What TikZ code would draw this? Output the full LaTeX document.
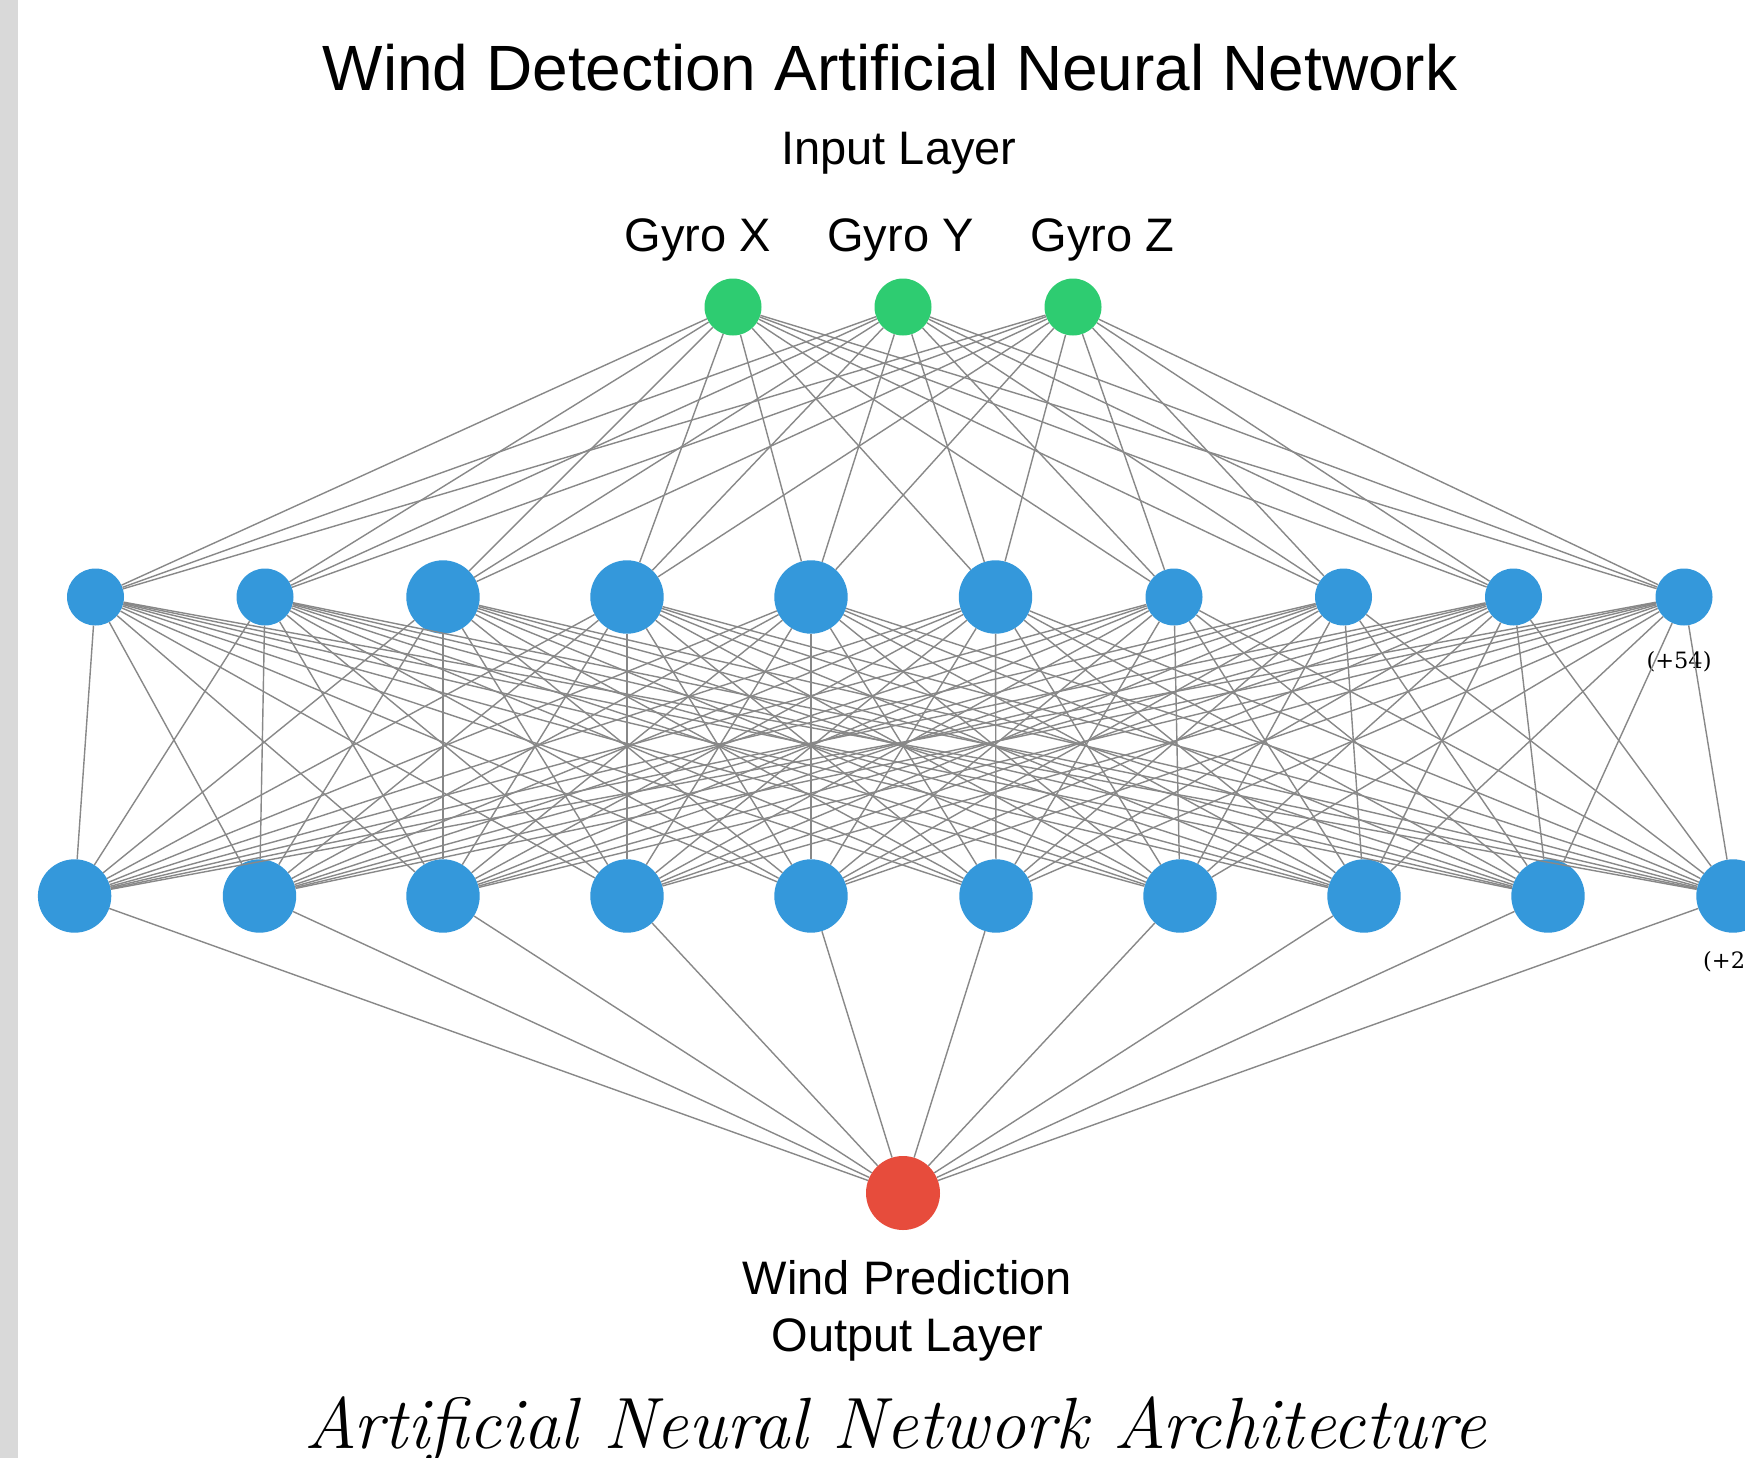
\documentclass[tikz,border=0pt]{standalone}
\usepackage{fontspec}
\newfontfamily\sansf{Liberation Sans}
\newfontfamily\serifsmall{DejaVu Serif}
\definecolor{nnblue}{HTML}{3498DB}
\definecolor{nngreen}{HTML}{2ECC71}
\definecolor{nnred}{HTML}{E74C3C}
\definecolor{edgegray}{RGB}{136,136,136}
\definecolor{barcolor}{RGB}{217,217,217}
\begin{document}
\begin{tikzpicture}[x=1pt,y=-1pt,
  edge/.style={draw=edgegray, line width=1.4pt},
  inneuron/.style={circle, fill=nngreen, minimum size=57pt, inner sep=0pt},
  smallneuron/.style={circle, fill=nnblue, minimum size=57pt, inner sep=0pt},
  bigneuron/.style={circle, fill=nnblue, minimum size=73.4pt, inner sep=0pt},
  outneuron/.style={circle, fill=nnred, minimum size=74pt, inner sep=0pt},
  ttl/.style={inner sep=0pt, anchor=base, font=\sansf\fontsize{64pt}{70pt}\selectfont},
  lab/.style={inner sep=0pt, anchor=base, font=\sansf\fontsize{47pt}{54pt}\selectfont},
  cnt/.style={inner sep=0pt, font=\serifsmall\fontsize{22.5pt}{26pt}\selectfont},
  capt/.style={inner sep=0pt, anchor=base, font=\itshape\fontsize{72.6pt}{80pt}\selectfont}
]
\useasboundingbox (0,0) rectangle (1745,1458);
\clip (0,0) rectangle (1745,1458);
\fill[white] (0,0) rectangle (1745,1458);
\fill[barcolor] (0,0) rectangle (18,1458);

% texts
\node[ttl] (title) at (890,91) {Wind Detection Artificial Neural Network};
\node[lab] (inlab) at (899,165) {Input Layer};
\node[lab] (gx) at (697.6,251.7) {Gyro X};
\node[lab] (gy) at (900.4,251.7) {Gyro Y};
\node[lab] (gz) at (1102.3,251.7) {Gyro Z};
\node[lab] (wp) at (907.5,1294) {Wind Prediction};
\node[lab] (ol) at (907.5,1351.7) {Output Layer};
\node[capt] (cap) at (895,1448) {Artificial Neural Network Architecture};

% input layer
\node[inneuron] (i1) at (733,307) {};
\node[inneuron] (i2) at (903,307) {};
\node[inneuron] (i3) at (1073,307) {};

% hidden layer 1
\node[smallneuron] (a1) at (95.5,597) {};
\node[smallneuron] (a2) at (265,597) {};
\node[bigneuron] (a3) at (443,597) {};
\node[bigneuron] (a4) at (627,597) {};
\node[bigneuron] (a5) at (811,597) {};
\node[bigneuron] (a6) at (995.5,597) {};
\node[smallneuron] (a7) at (1174,597) {};
\node[smallneuron] (a8) at (1343.5,597) {};
\node[smallneuron] (a9) at (1513.5,597) {};
\node[smallneuron] (a10) at (1684,597) {};

% hidden layer 2
\foreach \k/\xx in {1/74.6,2/259.5,3/443,4/627,5/811,6/996,7/1180,8/1364,9/1548,10/1733}{
  \node[bigneuron] (b\k) at (\xx,896) {};
}

% output
\node[outneuron] (o) at (903,1193) {};

% counts
\node[cnt] (c1) at (1679,662) {(+54)};
\node[cnt, anchor=west] (c2) at (1703,962) {(+2};

% edges
\foreach \i in {1,2,3}{
  \foreach \j in {1,...,10}{
    \draw[edge] (i\i) -- (a\j);
  }
}
\foreach \i in {1,...,10}{
  \foreach \j in {1,...,10}{
    \draw[edge] (a\i) -- (b\j);
  }
}
\foreach \j in {1,...,10}{
  \draw[edge] (b\j) -- (o);
}
\end{tikzpicture}
\end{document}
